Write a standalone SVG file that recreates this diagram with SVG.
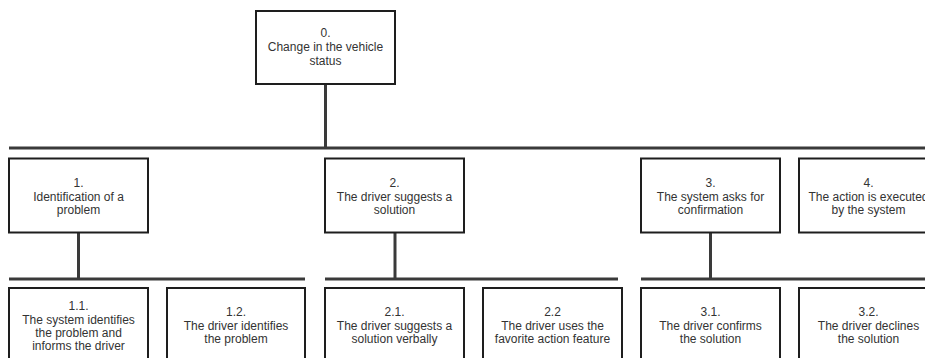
<svg xmlns="http://www.w3.org/2000/svg" width="925" height="358" viewBox="0 0 925 358">
<style>
.box{fill:#ffffff;stroke:#1e1e1e;stroke-width:2}
.lbl{font-family:"Liberation Sans",Arial,sans-serif;font-size:12px;fill:#333333;text-anchor:middle}
.con{stroke:#3a3a3a;stroke-width:3;fill:none}
</style>
<rect width="925" height="358" fill="#ffffff"/>
<g id="connectors">
<line class="con" x1="325.5" y1="84" x2="325.5" y2="148"/>
<line class="con" x1="9" y1="148" x2="930" y2="148"/>
<line class="con" x1="78.5" y1="232" x2="78.5" y2="279"/>
<line class="con" x1="9" y1="279" x2="305" y2="279"/>
<line class="con" x1="395" y1="232" x2="395" y2="279"/>
<line class="con" x1="325" y1="279" x2="618" y2="279"/>
<line class="con" x1="710.5" y1="232" x2="710.5" y2="279"/>
<line class="con" x1="641" y1="279" x2="930" y2="279"/>
</g>
<g id="n0">
<rect class="box" x="256" y="11" width="139" height="73"/>
<text class="lbl" x="325.5" y="37">0.</text>
<text class="lbl" x="325.5" y="51">Change in the vehicle</text>
<text class="lbl" x="325.5" y="65">status</text>
</g>
<g id="n1">
<rect class="box" x="9" y="158.5" width="139" height="74"/>
<text class="lbl" x="78.5" y="187">1.</text>
<text class="lbl" x="78.5" y="200.5">Identification of a</text>
<text class="lbl" x="78.5" y="214">problem</text>
</g>
<g id="n2">
<rect class="box" x="325" y="158.5" width="139" height="74"/>
<text class="lbl" x="394.5" y="187">2.</text>
<text class="lbl" x="394.5" y="200.5">The driver suggests a</text>
<text class="lbl" x="394.5" y="214">solution</text>
</g>
<g id="n3">
<rect class="box" x="641" y="158.5" width="139" height="74"/>
<text class="lbl" x="710.5" y="187">3.</text>
<text class="lbl" x="710.5" y="200.5">The system asks for</text>
<text class="lbl" x="710.5" y="214">confirmation</text>
</g>
<g id="n4">
<rect class="box" x="799" y="158.5" width="139" height="74"/>
<text class="lbl" x="868.5" y="187">4.</text>
<text class="lbl" x="868.5" y="200.5">The action is executed</text>
<text class="lbl" x="868.5" y="214">by the system</text>
</g>
<g id="n1_1">
<rect class="box" x="9" y="288" width="139" height="74"/>
<text class="lbl" x="78.5" y="310">1.1.</text>
<text class="lbl" x="78.5" y="323.5">The system identifies</text>
<text class="lbl" x="78.5" y="337">the problem and</text>
<text class="lbl" x="78.5" y="350">informs the driver</text>
</g>
<g id="n1_2">
<rect class="box" x="167" y="288" width="138" height="74"/>
<text class="lbl" x="236" y="316">1.2.</text>
<text class="lbl" x="236" y="329.5">The driver identifies</text>
<text class="lbl" x="236" y="343">the problem</text>
</g>
<g id="n2_1">
<rect class="box" x="325" y="288" width="139" height="74"/>
<text class="lbl" x="394.5" y="316">2.1.</text>
<text class="lbl" x="394.5" y="329.5">The driver suggests a</text>
<text class="lbl" x="394.5" y="343">solution verbally</text>
</g>
<g id="n2_2">
<rect class="box" x="483" y="288" width="139" height="74"/>
<text class="lbl" x="552.5" y="316">2.2</text>
<text class="lbl" x="552.5" y="329.5">The driver uses the</text>
<text class="lbl" x="552.5" y="343">favorite action feature</text>
</g>
<g id="n3_1">
<rect class="box" x="641" y="288" width="139" height="74"/>
<text class="lbl" x="710.5" y="316">3.1.</text>
<text class="lbl" x="710.5" y="329.5">The driver confirms</text>
<text class="lbl" x="710.5" y="343">the solution</text>
</g>
<g id="n3_2">
<rect class="box" x="799" y="288" width="139" height="74"/>
<text class="lbl" x="868.5" y="316">3.2.</text>
<text class="lbl" x="868.5" y="329.5">The driver declines</text>
<text class="lbl" x="868.5" y="343">the solution</text>
</g>
</svg>
